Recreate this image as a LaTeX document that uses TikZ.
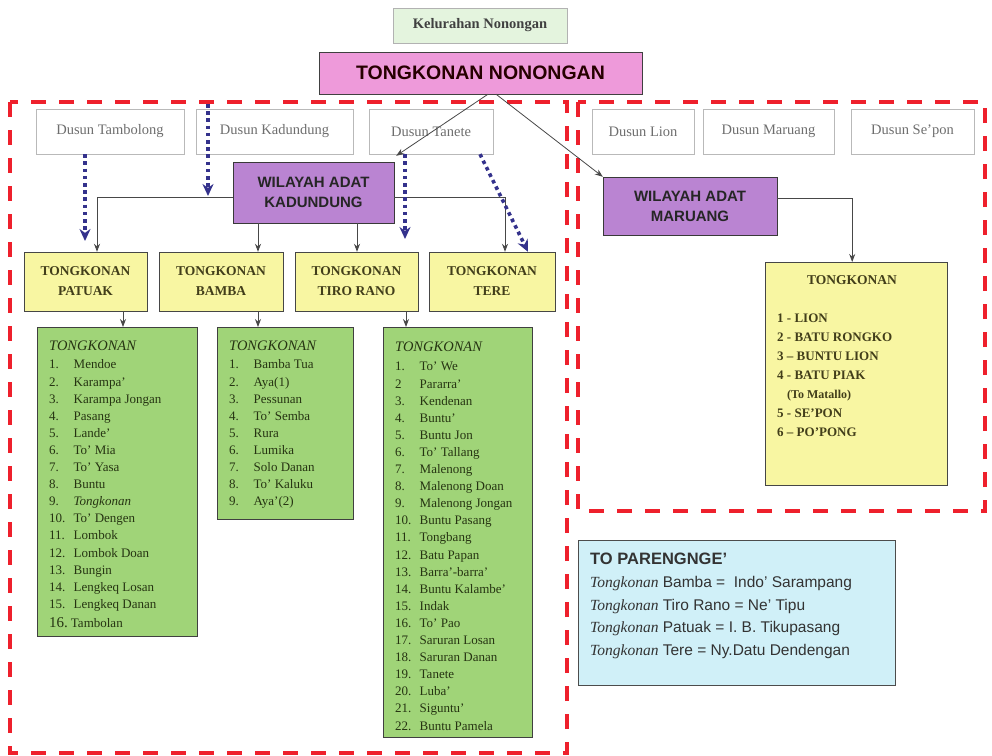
\documentclass[tikz,border=0pt]{standalone}
\usepackage{fontspec}
\setmainfont{Liberation Serif}
\setsansfont{Liberation Sans}
\usetikzlibrary{arrows.meta,positioning}

\definecolor{kelgreen}{RGB}{228,244,222}
\definecolor{tkpink}{RGB}{238,154,218}
\definecolor{wapurple}{RGB}{186,132,210}
\definecolor{tkyellow}{RGB}{248,246,162}
\definecolor{lsgreen}{RGB}{160,212,120}
\definecolor{tpcyan}{RGB}{208,240,248}
\definecolor{dashred}{RGB}{238,32,44}
\definecolor{dotblue}{RGB}{52,50,140}
\definecolor{linegray}{RGB}{72,72,72}
\definecolor{dusuntext}{RGB}{110,110,110}
\definecolor{olivetext}{RGB}{66,62,26}
\definecolor{listtext}{RGB}{38,52,18}

\newcommand{\fs}[2]{\fontsize{#1}{#2}\selectfont}
\newcommand{\li}[2]{\makebox[24.5pt][l]{#1}#2}

\tikzset{
  region/.style={draw=dashred, line width=4pt, dash pattern=on 15pt off 13pt},
  dusun/.style={draw=gray!55, fill=white, minimum height=45pt, inner sep=0pt,
    text=dusuntext, font=\fs{14.5}{17}},
  wilayah/.style={draw=gray!45!black, fill=wapurple, inner sep=0pt, align=center,
    text=black!85, font=\sffamily\bfseries\fs{15}{20}},
  tkbox/.style={draw=gray!55!black, fill=tkyellow, minimum height=59pt, inner sep=0pt,
    align=center, text=olivetext, font=\bfseries\fs{13.5}{20}},
  listbox/.style={draw=gray!50!black, fill=lsgreen, anchor=north west, inner sep=0pt},
  listtxt/.style={anchor=north west, inner sep=0pt, align=left, text=listtext,
    font=\fs{13}{17.1}},
  link/.style={->, draw=linegray, line width=0.8pt, >={Stealth[length=8pt,width=6pt]}},
  dotlink/.style={-{Stealth[length=12pt,width=11pt]}, draw=dotblue, line width=3.6pt,
    dash pattern=on 3.6pt off 3.6pt}
}

\begin{document}
\begin{tikzpicture}[x=1pt,y=-1pt]
\useasboundingbox (0,0) rectangle (992,755);

% dashed regions
\draw[region] (10,102) rectangle (567,753);
\draw[region] (578,102) rectangle (985,511);

% top
\node[draw=gray!60, fill=kelgreen, minimum width=174pt, minimum height=35pt, inner sep=0pt,
  text=black!75, font=\bfseries\fs{14.5}{17}] (kel) at (480,25.5) {Kelurahan Nonongan};
\node[draw=gray!50!black, fill=tkpink, minimum width=323pt, minimum height=42pt, inner sep=0pt,
  text=black!85!red, font=\sffamily\bfseries\fs{19.5}{22}] (tknon) at (480.5,73) {TONGKONAN NONONGAN};

% dusun
\node[dusun, minimum width=148pt] (dtamb) at (110,131.5) {Dusun Tambolong};
\node[dusun, minimum width=157pt] (dkad) at (274.5,131.5) {Dusun Kadundung};
\node[dusun, minimum width=124pt] (dtan) at (431,131.5) {Dusun Tanete};
\node[dusun, minimum width=102pt] (dlion) at (643,131.5) {Dusun Lion};
\node[dusun, minimum width=131pt] (dmar) at (768.5,131.5) {Dusun Maruang};
\node[dusun, minimum width=123pt] (dsep) at (912.5,131.5) {Dusun Se'pon};

% wilayah adat
\node[wilayah, minimum width=161pt, minimum height=61pt] (wkad) at (313.5,192.5) {WILAYAH ADAT\\KADUNDUNG};
\node[wilayah, minimum width=174pt, minimum height=58pt] (wmar) at (690,206) {WILAYAH ADAT\\MARUANG};

% tongkonan
\node[tkbox, minimum width=123pt] (ypatuak) at (85.5,281.5) {TONGKONAN\\PATUAK};
\node[tkbox, minimum width=124pt] (ybamba) at (221,281.5) {TONGKONAN\\BAMBA};
\node[tkbox, minimum width=123pt] (ytiro) at (356.5,281.5) {TONGKONAN\\TIRO RANO};
\node[tkbox, minimum width=126pt] (ytere) at (492,281.5) {TONGKONAN\\TERE};

% lists
\node[listbox, minimum width=160pt, minimum height=309pt] (lpatuak) at (37,327) {};
\node[listtxt] (tpatuak) at (49,341) {{\fs{14.5}{17.1}\itshape TONGKONAN}\\[1pt]
  \li{1.}{Mendoe}\\ \li{2.}{Karampa'}\\ \li{3.}{Karampa Jongan}\\ \li{4.}{Pasang}\\
  \li{5.}{Lande'}\\ \li{6.}{To' Mia}\\ \li{7.}{To' Yasa}\\ \li{8.}{Buntu}\\
  \li{9.}{\textit{Tongkonan}}\\ \li{10.}{To' Dengen}\\ \li{11.}{Lombok}\\
  \li{12.}{Lombok Doan}\\ \li{13.}{Bungin}\\ \li{14.}{Lengkeq Losan}\\
  \li{15.}{Lengkeq Danan}\\[2pt] {\fs{15}{17.1}16.}\hspace{3pt}Tambolan};

\node[listbox, minimum width=136pt, minimum height=192pt] (lbamba) at (217,327) {};
\node[listtxt] (tbamba) at (229,341) {{\fs{14.5}{17.1}\itshape TONGKONAN}\\[1pt]
  \li{1.}{Bamba Tua}\\ \li{2.}{Aya(1)}\\ \li{3.}{Pessunan}\\ \li{4.}{To' Semba}\\
  \li{5.}{Rura}\\ \li{6.}{Lumika}\\ \li{7.}{Solo Danan}\\ \li{8.}{To' Kaluku}\\
  \li{9.}{Aya'(2)}};

\node[listbox, minimum width=149pt, minimum height=410pt] (ltiro) at (383,327) {};
\node[listtxt] (ttiro) at (395,342) {{\fs{14.5}{17.1}\itshape TONGKONAN}\\[2pt]
  \li{1.}{To' We}\\ \li{2}{Pararra'}\\ \li{3.}{Kendenan}\\ \li{4.}{Buntu'}\\
  \li{5.}{Buntu Jon}\\ \li{6.}{To' Tallang}\\ \li{7.}{Malenong}\\ \li{8.}{Malenong Doan}\\
  \li{9.}{Malenong Jongan}\\ \li{10.}{Buntu Pasang}\\ \li{11.}{Tongbang}\\
  \li{12.}{Batu Papan}\\ \li{13.}{Barra'-barra'}\\ \li{14.}{Buntu Kalambe'}\\
  \li{15.}{Indak}\\ \li{16.}{To' Pao}\\ \li{17.}{Saruran Losan}\\ \li{18.}{Saruran Danan}\\
  \li{19.}{Tanete}\\ \li{20.}{Luba'}\\ \li{21.}{Siguntu'}\\ \li{22.}{Buntu Pamela}};

% maruang tongkonan
\node[draw=gray!55!black, fill=tkyellow, anchor=north west, minimum width=182pt,
  minimum height=223pt, inner sep=0pt] (lmar) at (765,262) {};
\node[text=olivetext, font=\bfseries\fs{13.5}{17}] (tmartitle) at (852,280) {TONGKONAN};
\node[listtxt, text=olivetext, font=\bfseries\fs{13}{19}] (tmar) at (777,313.5)
  {1 - LION\\ 2 - BATU RONGKO\\ 3 -- BUNTU LION\\ 4 - BATU PIAK\\
   \hspace{10pt}{\fs{12}{19}(To Matallo)}\\ 5 - SE'PON\\ 6 -- PO'PONG};

% to parengnge'
\node[draw=gray!60!black, fill=tpcyan, anchor=north west, minimum width=317pt,
  minimum height=145pt, inner sep=0pt] (lpar) at (578,540) {};
\node[listtxt, text=black!80, font=\sffamily\fs{15.5}{22.7}] (tpar) at (590,553)
  {{\bfseries\fs{16.5}{22.7}TO PARENGNGE'}\\
   {\rmfamily\itshape Tongkonan} Bamba =\ \ Indo' Sarampang\\
   {\rmfamily\itshape Tongkonan} Tiro Rano = Ne' Tipu\\
   {\rmfamily\itshape Tongkonan} Patuak = I. B. Tikupasang\\
   {\rmfamily\itshape Tongkonan} Tere = Ny.Datu Dendengan};

% free ends of the dotted arrows
\coordinate (kadTop) at (208,104);
\coordinate (kadEnd) at (208,196);
\coordinate (tambEnd) at (85,241);
\coordinate (tanEnd) at (405,239);

% grey connectors
\draw[link] ([xshift=7.5pt]tknon.south) -- ([xshift=2pt,yshift=6pt]wkad.north east);
\draw[link] ([xshift=15.5pt]tknon.south) -- (wmar.north west);
\draw[link] ([yshift=-4.5pt]wkad.west) -| ([xshift=11.5pt]ypatuak.north);
\draw[link] ([yshift=-4.5pt]wkad.east) -| ([xshift=13pt]ytere.north);
\draw[link] ([xshift=-55.5pt]wkad.south) -- ([xshift=-55.5pt]wkad.south |- ybamba.north);
\draw[link] ([xshift=43.5pt]wkad.south) -- ([xshift=43.5pt]wkad.south |- ytiro.north);
\draw[link] ([xshift=37.5pt]ypatuak.south) -- ([xshift=37.5pt]ypatuak.south |- lpatuak.north);
\draw[link] ([xshift=37pt]ybamba.south) -- ([xshift=37pt]ybamba.south |- lbamba.north);
\draw[link] ([xshift=49.5pt]ytiro.south) -- ([xshift=49.5pt]ytiro.south |- ltiro.north);
\draw[link] ([yshift=8pt]wmar.east) -| ([xshift=-4pt]lmar.north);

% dotted arrows
\draw[dotlink] ([xshift=-25pt]dtamb.south) -- (tambEnd);
\draw[dotlink] (kadTop) -- (kadEnd);
\draw[dotlink] ([xshift=-26pt]dtan.south) -- (tanEnd);
\draw[dotlink] ([xshift=49pt]dtan.south) -- ([xshift=36pt]ytere.north);
\end{tikzpicture}
\end{document}
